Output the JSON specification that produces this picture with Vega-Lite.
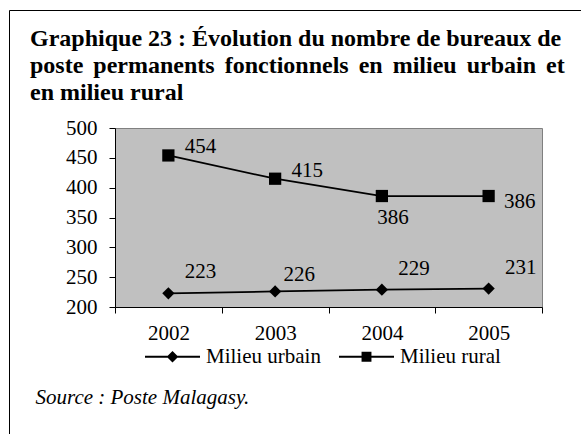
{
  "$schema": "https://vega.github.io/schema/vega-lite/v6.json",
  "width": 427,
  "height": 179,
  "autosize": {"type": "none"},
  "padding": {"left": 115, "top": 128, "right": 39, "bottom": 127},
  "background": "white",
  "title": {
    "text": ["Graphique 23 : Évolution du nombre de bureaux de", "poste \u2006permanents \u2006fonctionnels \u2006en \u2006milieu \u2006urbain \u2006et", "en milieu rural"],
    "anchor": "start",
    "frame": "group",
    "dx": -85,
    "dy": 115,
    "font": "Liberation Serif",
    "fontSize": 24,
    "fontWeight": "bold",
    "color": "black",
    "lineHeight": 27,
    "offset": 20
  },
  "data": {
    "values": [
      {"year": "2002", "series": "Milieu urbain", "value": 223},
      {"year": "2003", "series": "Milieu urbain", "value": 226},
      {"year": "2004", "series": "Milieu urbain", "value": 229},
      {"year": "2005", "series": "Milieu urbain", "value": 231},
      {"year": "2002", "series": "Milieu rural", "value": 454},
      {"year": "2003", "series": "Milieu rural", "value": 415},
      {"year": "2004", "series": "Milieu rural", "value": 386},
      {"year": "2005", "series": "Milieu rural", "value": 386}
    ]
  },
  "encoding": {
    "x": {
      "field": "year",
      "type": "ordinal",
      "scale": {"type": "band", "paddingInner": 0, "paddingOuter": 0},
      "axis": {
        "title": "Source : Poste Malagasy.",
        "titleFont": "Liberation Serif",
        "titleFontSize": 21,
        "titleFontStyle": "italic",
        "titleFontWeight": "normal",
        "titleColor": "black",
        "titleX": -80,
        "titleY": 96,
        "titleAlign": "left",
        "titleBaseline": "alphabetic",
        "labelAngle": 0,
        "labelFont": "Liberation Serif",
        "labelFontSize": 21,
        "labelColor": "black",
        "labelPadding": 9,
        "tickBand": "extent",
        "tickSize": 6,
        "tickColor": "black",
        "domainColor": "black",
        "grid": false
      }
    },
    "y": {
      "field": "value",
      "type": "quantitative",
      "scale": {"domain": [200, 500], "nice": false, "zero": false},
      "axis": {
        "title": null,
        "values": [200, 250, 300, 350, 400, 450, 500],
        "labelFont": "Liberation Serif",
        "labelFontSize": 21,
        "labelColor": "black",
        "labelPadding": 12,
        "tickSize": 6,
        "tickColor": "black",
        "domainColor": "black",
        "grid": false
      }
    }
  },
  "layer": [
    {
      "mark": {"type": "line", "color": "black", "strokeWidth": 1.75},
      "encoding": {"detail": {"field": "series"}}
    },
    {
      "mark": {"type": "point", "filled": true, "color": "black", "opacity": 1, "size": 150},
      "encoding": {
        "shape": {
          "field": "series",
          "type": "nominal",
          "scale": {"domain": ["Milieu urbain", "Milieu rural"], "range": ["diamond", "square"]},
          "legend": null
        }
      }
    },
    {
      "mark": {"type": "point", "filled": true, "opacity": 0, "size": 1},
      "encoding": {
        "shape": {
          "field": "series",
          "type": "nominal",
          "scale": {"domain": ["Milieu urbain", "Milieu rural"], "range": ["M-1,-0.032H1V0.032H-1ZM0,-0.21L0.21,0L0,0.21L-0.21,0Z", "M-1,-0.032H1V0.032H-1ZM-0.18,-0.18H0.18V0.18H-0.18Z"]},
          "legend": {
            "orient": "none",
            "legendX": 30,
            "legendY": 201,
            "direction": "horizontal",
            "title": null,
            "padding": 0,
            "symbolSize": 3025,
            "symbolStrokeWidth": 0,
            "symbolFillColor": "black",
            "symbolOpacity": 1,
            "labelFont": "Liberation Serif",
            "labelFontSize": 21,
            "labelColor": "black",
            "labelOffset": 6,
            "columnPadding": 18
          }
        },
        "color": {
          "field": "series",
          "type": "nominal",
          "scale": {"range": ["black", "black"]},
          "legend": {
            "orient": "none",
            "legendX": -106,
            "legendY": -118,
            "direction": "horizontal",
            "title": null,
            "padding": 330,
            "strokeColor": "black",
            "symbolOpacity": 0,
            "labelOpacity": 0,
            "symbolSize": 1,
            "labelFontSize": 1
          }
        }
      }
    },
    {
      "transform": [{"filter": "datum.series === 'Milieu urbain' && datum.year !== '2003'"}],
      "mark": {"type": "text", "font": "Liberation Serif", "fontSize": 21, "color": "black", "align": "center", "baseline": "middle", "dx": 32, "dy": -21},
      "encoding": {"text": {"field": "value"}}
    },
    {
      "transform": [{"filter": "datum.series === 'Milieu urbain' && datum.year === '2003'"}],
      "mark": {"type": "text", "font": "Liberation Serif", "fontSize": 21, "color": "black", "align": "center", "baseline": "middle", "dx": 24, "dy": -16},
      "encoding": {"text": {"field": "value"}}
    },
    {
      "transform": [{"filter": "datum.series === 'Milieu rural' && (datum.year === '2002' || datum.year === '2003')"}],
      "mark": {"type": "text", "font": "Liberation Serif", "fontSize": 21, "color": "black", "align": "center", "baseline": "middle", "dx": 32, "dy": -8},
      "encoding": {"text": {"field": "value"}}
    },
    {
      "transform": [{"filter": "datum.series === 'Milieu rural' && datum.year === '2004'"}],
      "mark": {"type": "text", "font": "Liberation Serif", "fontSize": 21, "color": "black", "align": "center", "baseline": "middle", "dx": 11, "dy": 22},
      "encoding": {"text": {"field": "value"}}
    },
    {
      "transform": [{"filter": "datum.series === 'Milieu rural' && datum.year === '2005'"}],
      "mark": {"type": "text", "font": "Liberation Serif", "fontSize": 21, "color": "black", "align": "center", "baseline": "middle", "dx": 31, "dy": 6},
      "encoding": {"text": {"field": "value"}}
    }
  ],
  "resolve": {"scale": {"shape": "independent"}},
  "config": {
    "view": {"fill": "#C0C0C0", "stroke": "#808080", "strokeWidth": 1}
  }
}
